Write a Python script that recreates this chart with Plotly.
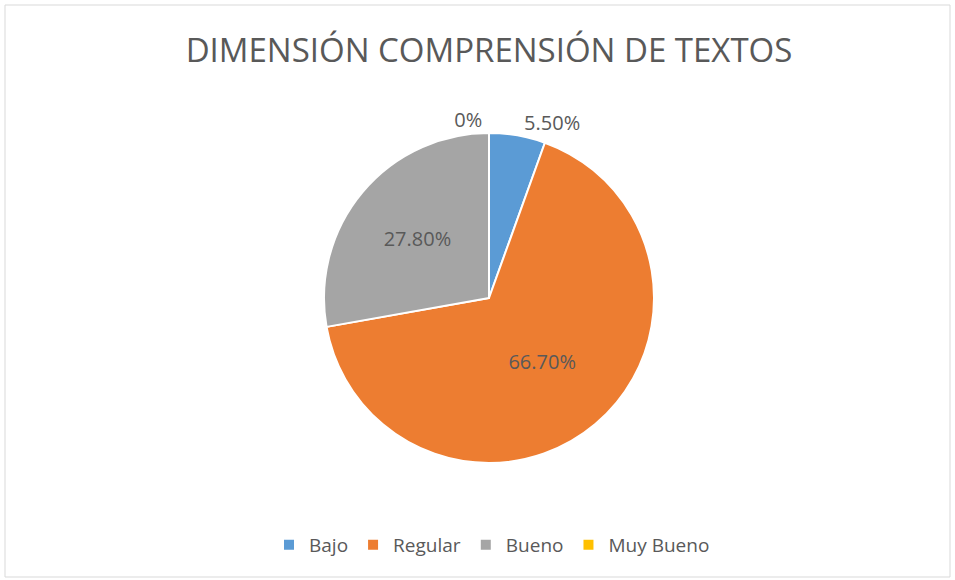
import plotly.graph_objects as go

categories = ["Bajo", "Regular", "Bueno", "Muy Bueno"]
values = [5.5, 66.7, 27.8, 0.0]
text_labels = ["5.50%", "66.70%", "27.80%", "0%"]
colors = ["#5B9BD5", "#ED7D31", "#A5A5A5", "#FFC000"]

W, H = 955, 580
cx, cy, r = 489, 298, 165

fig = go.Figure(go.Pie(
    labels=categories,
    values=values,
    text=text_labels,
    textinfo="text",
    textposition=["outside", "inside", "inside", "outside"],
    sort=False,
    direction="clockwise",
    rotation=0,
    marker=dict(colors=colors, line=dict(color="white", width=2)),
    textfont=dict(family="Open Sans", size=20, color="#595959"),
    insidetextorientation="horizontal",
    domain=dict(x=[(cx - r) / W, (cx + r) / W], y=[1 - (cy + r) / H, 1 - (cy - r) / H]),
    showlegend=True,
    hoverinfo="label+percent",
))

fig.update_layout(
    width=W, height=H,
    margin=dict(l=0, r=0, t=0, b=0),
    paper_bgcolor="white",
    title=dict(text="DIMENSIÓN COMPRENSIÓN DE TEXTOS", x=489 / W, xanchor="center",
               y=1 - 50 / H, yanchor="middle",
               font=dict(family="Open Sans", size=33, color="#595959")),
    legend=dict(orientation="h", x=492 / W, xanchor="center", y=1 - 545 / H, yanchor="middle",
                font=dict(family="Open Sans", size=19, color="#595959"), itemwidth=30),
    shapes=[dict(type="rect", xref="paper", yref="paper",
                 x0=5 / W, x1=950 / W, y0=1 - 577 / H, y1=1 - 5 / H,
                 line=dict(color="#D9D9D9", width=1))],
)

fig.write_html("out.html", config={"displayModeBar": False},
               post_script="document.body.style.margin='0';")
